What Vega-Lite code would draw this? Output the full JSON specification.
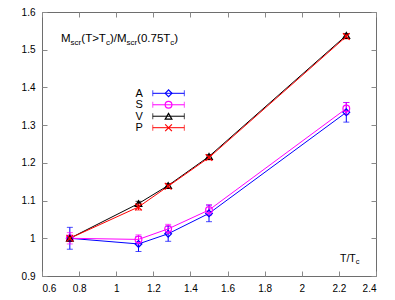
{
  "$schema": "https://vega.github.io/schema/vega-lite/v6.json",
  "width": 334,
  "height": 264,
  "autosize": {"type": "none"},
  "padding": {"left": 42, "top": 12, "right": 19, "bottom": 24},
  "background": "white",
  "config": {
    "view": {"stroke": "#6e6e6e", "strokeWidth": 1},
    "font": "Liberation Sans",
    "axis": {
      "domain": false,
      "grid": false,
      "tickColor": "#8a8a8a",
      "tickSize": -5,
      "labelFontSize": 10,
      "labelColor": "#000000",
      "labelFont": "Liberation Sans",
      "title": null
    }
  },
  "datasets": {
    "pts": [
      {"s": "A", "t": 0.75, "m": 1.0, "lo": 0.971, "hi": 1.029},
      {"s": "A", "t": 1.12, "m": 0.985, "lo": 0.965, "hi": 1.005},
      {"s": "A", "t": 1.28, "m": 1.012, "lo": 0.992, "hi": 1.032},
      {"s": "A", "t": 1.5, "m": 1.066, "lo": 1.044, "hi": 1.088},
      {"s": "A", "t": 2.24, "m": 1.334, "lo": 1.308, "hi": 1.36},
      {"s": "S", "t": 0.75, "m": 1.0, "lo": 0.985, "hi": 1.015},
      {"s": "S", "t": 1.12, "m": 0.997, "lo": 0.985, "hi": 1.009},
      {"s": "S", "t": 1.28, "m": 1.025, "lo": 1.013, "hi": 1.037},
      {"s": "S", "t": 1.5, "m": 1.075, "lo": 1.061, "hi": 1.089},
      {"s": "S", "t": 2.24, "m": 1.344, "lo": 1.328, "hi": 1.36},
      {"s": "V", "t": 0.75, "m": 1.0, "lo": 0.995, "hi": 1.005},
      {"s": "V", "t": 1.12, "m": 1.092, "lo": 1.086, "hi": 1.098},
      {"s": "V", "t": 1.28, "m": 1.14, "lo": 1.135, "hi": 1.145},
      {"s": "V", "t": 1.5, "m": 1.217, "lo": 1.212, "hi": 1.222},
      {"s": "V", "t": 2.24, "m": 1.538, "lo": 1.533, "hi": 1.543},
      {"s": "P", "t": 0.75, "m": 1.0, "lo": 0.995, "hi": 1.005},
      {"s": "P", "t": 1.12, "m": 1.083, "lo": 1.075, "hi": 1.091},
      {"s": "P", "t": 1.28, "m": 1.138, "lo": 1.132, "hi": 1.144},
      {"s": "P", "t": 1.5, "m": 1.214, "lo": 1.208, "hi": 1.22},
      {"s": "P", "t": 2.24, "m": 1.535, "lo": 1.529, "hi": 1.541}
    ],
    "leg": [{"s": "A"}, {"s": "S"}, {"s": "V"}, {"s": "P"}],
    "one": [{}]
  },
  "resolve": {
    "scale": {"y": "independent"},
    "axis": {"x": "independent", "y": "independent"}
  },
  "layer": [
    {
      "data": {"name": "pts"},
      "resolve": {"axis": {"x": "independent", "y": "independent"}},
      "layer": [
        {
          "mark": {"type": "line", "strokeWidth": 1},
          "encoding": {
            "x": {"field": "t", "type": "quantitative",
              "scale": {"domain": [0.6, 2.4], "nice": false, "zero": false},
              "axis": {"orient": "bottom", "values": [0.6, 0.8, 1, 1.2, 1.4, 1.6, 1.8, 2, 2.2, 2.4], "format": "~g", "labelPadding": 12}},
            "y": {"field": "m", "type": "quantitative",
              "scale": {"domain": [0.9, 1.6], "nice": false, "zero": false},
              "axis": {"orient": "left", "values": [0.9, 1, 1.1, 1.2, 1.3, 1.4, 1.5, 1.6], "format": "~g", "labelPadding": 12}},
            "color": {"field": "s", "type": "nominal", "sort": ["A", "S", "V", "P"],
              "scale": {"domain": ["A", "S", "V", "P"], "range": ["#0000ff", "#ff00ff", "#000000", "#ff0000"]}, "legend": null},
            "order": {"field": "t", "type": "quantitative"}
          }
        },
        {
          "mark": {"type": "rule", "strokeWidth": 1},
          "encoding": {
            "x": {"field": "t", "type": "quantitative", "axis": {"orient": "top", "labels": false, "values": [0.6, 0.8, 1, 1.2, 1.4, 1.6, 1.8, 2, 2.2, 2.4]}},
            "y": {"field": "lo", "type": "quantitative", "axis": {"orient": "right", "labels": false, "values": [0.9, 1, 1.1, 1.2, 1.3, 1.4, 1.5, 1.6]}},
            "y2": {"field": "hi"},
            "color": {"field": "s", "type": "nominal", "legend": null}
          }
        },
        {
          "mark": {"type": "tick", "orient": "horizontal", "size": 6, "thickness": 1},
          "encoding": {
            "x": {"field": "t", "type": "quantitative", "axis": null},
            "y": {"field": "lo", "type": "quantitative", "axis": null},
            "color": {"field": "s", "type": "nominal", "legend": null}
          }
        },
        {
          "mark": {"type": "tick", "orient": "horizontal", "size": 6, "thickness": 1},
          "encoding": {
            "x": {"field": "t", "type": "quantitative", "axis": null},
            "y": {"field": "hi", "type": "quantitative", "axis": null},
            "color": {"field": "s", "type": "nominal", "legend": null}
          }
        },
        {
          "mark": {"type": "point", "filled": false, "strokeWidth": 1.2, "size": 45, "opacity": 1},
          "encoding": {
            "x": {"field": "t", "type": "quantitative", "axis": null},
            "y": {"field": "m", "type": "quantitative", "axis": null},
            "color": {"field": "s", "type": "nominal", "legend": null},
            "shape": {"field": "s", "type": "nominal",
              "scale": {"domain": ["A", "S", "V", "P"], "range": ["diamond", "circle", "triangle-up", "M-1,-1L1,1M1,-1L-1,1"]}, "legend": null}
          }
        },
        {
          "data": {"name": "one"},
          "encoding": {
            "x": {"datum": 0.7024, "type": "quantitative", "axis": null},
            "y": {"datum": 1.52, "type": "quantitative", "axis": null}
          },
          "layer": [
            {"mark": {"type": "text", "align": "left", "baseline": "alphabetic", "fontSize": 11.5, "color": "#000", "dx": 0, "text": "M"}},
            {"mark": {"type": "text", "align": "left", "baseline": "alphabetic", "fontSize": 8, "color": "#000", "dx": 9.6, "dy": 3, "text": "scr"}},
            {"mark": {"type": "text", "align": "left", "baseline": "alphabetic", "fontSize": 11.5, "color": "#000", "dx": 20.3, "text": "(T>T"}},
            {"mark": {"type": "text", "align": "left", "baseline": "alphabetic", "fontSize": 8, "color": "#000", "dx": 44.9, "dy": 3, "text": "c"}},
            {"mark": {"type": "text", "align": "left", "baseline": "alphabetic", "fontSize": 11.5, "color": "#000", "dx": 48.9, "text": ")/M"}},
            {"mark": {"type": "text", "align": "left", "baseline": "alphabetic", "fontSize": 8, "color": "#000", "dx": 65.5, "dy": 3, "text": "scr"}},
            {"mark": {"type": "text", "align": "left", "baseline": "alphabetic", "fontSize": 11.5, "color": "#000", "dx": 76.1, "text": "(0.75T"}},
            {"mark": {"type": "text", "align": "left", "baseline": "alphabetic", "fontSize": 8, "color": "#000", "dx": 109.3, "dy": 3, "text": "c"}},
            {"mark": {"type": "text", "align": "left", "baseline": "alphabetic", "fontSize": 11.5, "color": "#000", "dx": 113.3, "text": ")"}}
          ]
        },
        {
          "data": {"name": "one"},
          "encoding": {
            "x": {"datum": 2.206, "type": "quantitative", "axis": null},
            "y": {"datum": 0.938, "type": "quantitative", "axis": null}
          },
          "layer": [
            {"mark": {"type": "text", "align": "left", "baseline": "alphabetic", "fontSize": 10.5, "color": "#000", "dx": 0, "text": "T/T"}},
            {"mark": {"type": "text", "align": "left", "baseline": "alphabetic", "fontSize": 7.5, "color": "#000", "dx": 15.7, "dy": 2.5, "text": "c"}}
          ]
        }
      ]
    },
    {
      "data": {"name": "leg"},
      "layer": [
        {
          "mark": {"type": "rule", "strokeWidth": 1},
          "encoding": {
            "x": {"datum": 1.197, "type": "quantitative", "axis": null},
            "x2": {"datum": 1.367},
            "y": {"field": "s", "type": "nominal", "scale": {"type": "point", "domain": ["A", "S", "V", "P"], "range": [81.3, 115.7], "padding": 0}, "axis": null},
            "color": {"field": "s", "type": "nominal", "legend": null}
          }
        },
        {
          "mark": {"type": "tick", "orient": "vertical", "size": 6, "thickness": 1},
          "encoding": {
            "x": {"datum": 1.197, "type": "quantitative", "axis": null},
            "y": {"field": "s", "type": "nominal", "axis": null},
            "color": {"field": "s", "type": "nominal", "legend": null}
          }
        },
        {
          "mark": {"type": "tick", "orient": "vertical", "size": 6, "thickness": 1},
          "encoding": {
            "x": {"datum": 1.367, "type": "quantitative", "axis": null},
            "y": {"field": "s", "type": "nominal", "axis": null},
            "color": {"field": "s", "type": "nominal", "legend": null}
          }
        },
        {
          "mark": {"type": "point", "filled": false, "strokeWidth": 1.2, "size": 45, "opacity": 1},
          "encoding": {
            "x": {"datum": 1.282, "type": "quantitative", "axis": null},
            "y": {"field": "s", "type": "nominal", "axis": null},
            "color": {"field": "s", "type": "nominal", "legend": null},
            "shape": {"field": "s", "type": "nominal", "legend": null}
          }
        },
        {
          "mark": {"type": "text", "align": "right", "baseline": "middle", "fontSize": 11, "color": "#000", "dy": 0.5},
          "encoding": {
            "x": {"datum": 1.144, "type": "quantitative", "axis": null},
            "y": {"field": "s", "type": "nominal", "axis": null},
            "text": {"field": "s", "type": "nominal"}
          }
        }
      ]
    }
  ]
}
